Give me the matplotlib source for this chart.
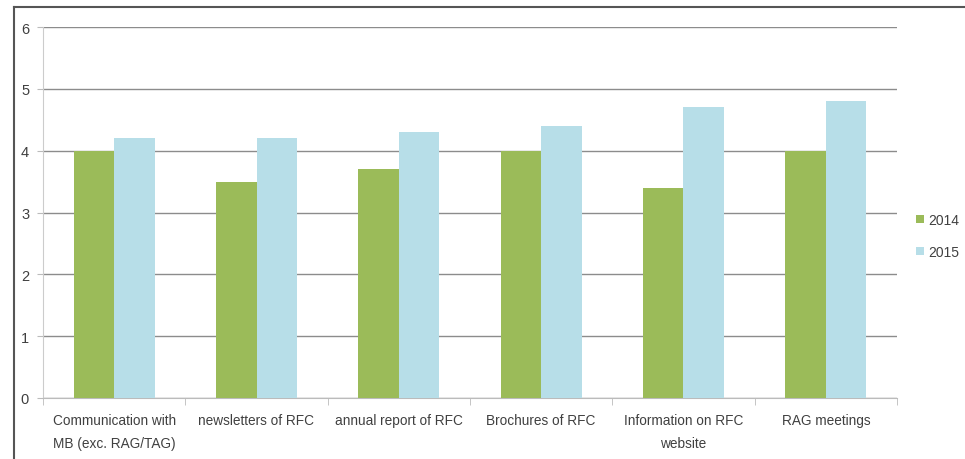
import matplotlib.pyplot as plt
import numpy as np
from matplotlib.lines import Line2D

categories = [
    "Communication with\nMB (exc. RAG/TAG)",
    "newsletters of RFC",
    "annual report of RFC",
    "Brochures of RFC",
    "Information on RFC\nwebsite",
    "RAG meetings",
]
values_2014 = [4.0, 3.5, 3.7, 4.0, 3.4, 4.0]
values_2015 = [4.2, 4.2, 4.3, 4.4, 4.7, 4.8]
series_labels = ["2014", "2015"]
y_ticks = [0, 1, 2, 3, 4, 5, 6]

GREEN = "#9BBB59"
BLUE = "#B7DEE8"
GRID = "#8c8c8c"
TEXT = "#404040"

plt.rcParams["font.family"] = ["Liberation Sans", "DejaVu Sans"]

fig = plt.figure(figsize=(9.65, 4.6), dpi=100)
ax = fig.add_axes([43 / 965, (460 - 399) / 460, (897 - 43) / 965, (399 - 28) / 460])

x = np.arange(len(categories))
width = 0.285
ax.bar(x - width / 2, values_2014, width, color=GREEN, label=series_labels[0], zorder=3)
ax.bar(x + width / 2, values_2015, width, color=BLUE, label=series_labels[1], zorder=3)

ax.set_xlim(-0.5, len(categories) - 0.5)
ax.set_ylim(0, 6)
ax.set_yticks(y_ticks)
ax.yaxis.grid(True, color=GRID, linewidth=1.0, zorder=0)

ax.set_xticks(x)
ax.set_xticklabels(categories, fontsize=9.8, color=TEXT, linespacing=1.75)
ax.tick_params(axis="x", length=0, pad=11)
ax.set_xticks(np.arange(len(categories) + 1) - 0.5, minor=True)
ax.tick_params(axis="x", which="minor", length=5, color="#bbbbbb")
ax.tick_params(axis="y", length=4, color="#bbbbbb", labelsize=10.5, labelcolor=TEXT, pad=6)

for side in ["top", "right"]:
    ax.spines[side].set_visible(False)
ax.spines["left"].set_color("#cccccc")
ax.spines["bottom"].set_color("#bbbbbb")

leg = ax.legend(loc="center left", frameon=False, fontsize=10,
                handlelength=0.6, handleheight=0.6, handletextpad=0.3,
                labelspacing=1.3, labelcolor=TEXT, borderpad=0, borderaxespad=0)
leg.set_bbox_to_anchor((1.022, 0.437), transform=ax.transAxes)

# outer frame (left and top edges visible in the reference)
fig.add_artist(Line2D([14 / 965, 14 / 965], [0, 1 - 8 / 460], transform=fig.transFigure,
                      color="#555555", linewidth=1.5))
fig.add_artist(Line2D([14 / 965, 1], [1 - 8 / 460, 1 - 8 / 460], transform=fig.transFigure,
                      color="#555555", linewidth=1.5))

fig.savefig("out.png", dpi=100)
